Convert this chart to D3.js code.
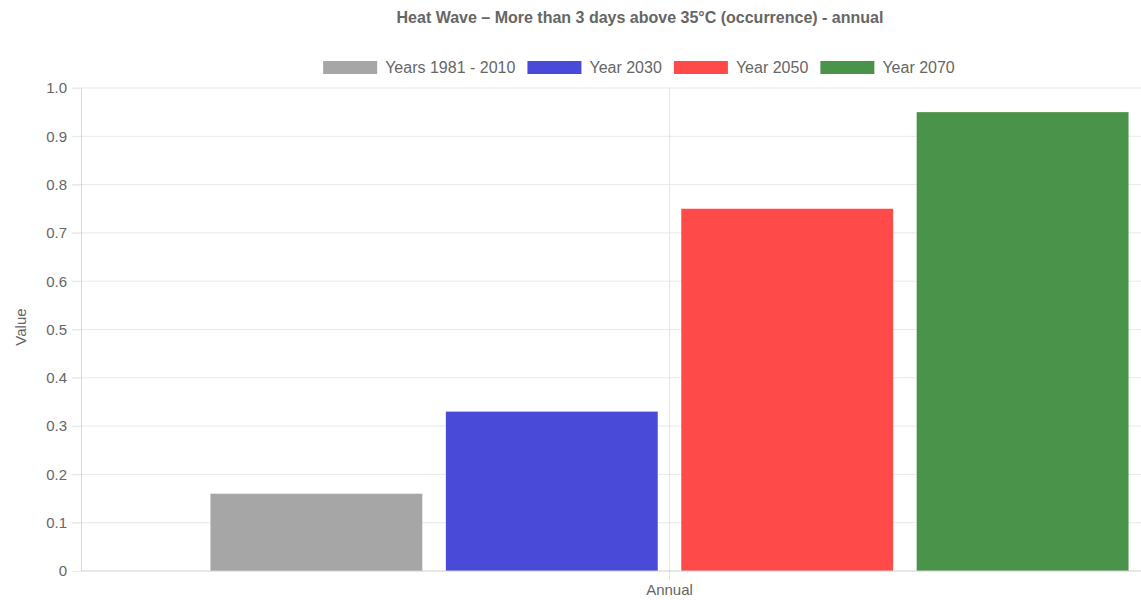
<!DOCTYPE html>
<meta charset="utf-8">
<script src="https://d3js.org/d3.v7.min.js"></script>
<style>
  body { margin: 0; background: #fff; }
  text { font-family: Arial, "Liberation Sans", sans-serif; fill: #666; }
</style>
<div id="chart"></div>
<script>
  // data
  const categories = ["Annual"];
  const seriesNames = ["Years 1981 - 2010", "Year 2030", "Year 2050", "Year 2070"];
  const seriesValues = [0.16, 0.33, 0.75, 0.95];
  const seriesColors = ["#a6a6a6", "#4a4ad9", "#ff4a4a", "#4a934a"];
  const yTicks = [0, 0.1, 0.2, 0.3, 0.4, 0.5, 0.6, 0.7, 0.8, 0.9, 1.0];

  const W = 1141, H = 600;
  // the original chart is cut on the right, the plot runs past the picture edge
  const margin = { top: 88, left: 81, bottom: 29 };
  const plotRight = 1258;

  const svg = d3.select("#chart").append("svg")
    .attr("width", W).attr("height", H);

  const x = d3.scaleBand().domain(categories).range([margin.left, plotRight]);
  const xs = d3.scaleBand().domain(seriesNames)
    .range([0, x.bandwidth() * 0.8]).paddingInner(0.1).paddingOuter(0.05);
  const y = d3.scaleLinear().domain([0, 1]).range([H - margin.bottom, margin.top]);

  // grid
  svg.append("g").selectAll("line").data(yTicks.slice(1)).join("line")
    .attr("x1", margin.left - 9).attr("x2", plotRight)
    .attr("y1", d => y(d)).attr("y2", d => y(d))
    .attr("stroke", "#e9e9e9").attr("stroke-width", 1);
  svg.append("line")
    .attr("x1", x("Annual") + x.bandwidth() / 2).attr("x2", x("Annual") + x.bandwidth() / 2)
    .attr("y1", margin.top).attr("y2", H - margin.bottom + 9)
    .attr("stroke", "#e6e6e6");

  // y axis
  const yAxis = svg.append("g")
    .attr("transform", `translate(${margin.left},0)`)
    .call(d3.axisLeft(y).tickValues(yTicks).tickSize(9).tickPadding(5)
      .tickFormat(d => d === 0 ? "0" : d3.format(".1f")(d)));
  yAxis.select(".domain").attr("stroke", "#d9d9d9");
  yAxis.selectAll(".tick line").attr("stroke", "#e9e9e9");
  yAxis.selectAll("text").style("font-size", "15px").attr("fill", "#777");

  // bars
  const groupLeft = x("Annual") + x.bandwidth() * 0.1;
  svg.append("g").selectAll("rect").data(seriesNames).join("rect")
    .attr("x", d => groupLeft + xs(d))
    .attr("width", xs.bandwidth())
    .attr("y", (d, i) => y(seriesValues[i]))
    .attr("height", (d, i) => y(0) - y(seriesValues[i]))
    .attr("fill", (d, i) => seriesColors[i]);

  // x axis line
  svg.append("line")
    .attr("x1", margin.left).attr("x2", plotRight)
    .attr("y1", y(0)).attr("y2", y(0))
    .attr("stroke", "#cfcfcf");
  svg.append("text")
    .attr("x", x("Annual") + x.bandwidth() / 2).attr("y", 595)
    .attr("text-anchor", "middle").style("font-size", "15px")
    .text("Annual");

  // y label
  svg.append("text")
    .attr("transform", `translate(26,327) rotate(-90)`)
    .attr("text-anchor", "middle").style("font-size", "15px")
    .text("Value");

  // title
  svg.append("text")
    .attr("x", 640).attr("y", 23)
    .attr("text-anchor", "middle").style("font-size", "16px").style("font-weight", "bold")
    .text("Heat Wave \u2013 More than 3 days above 35\u00b0C (occurrence) - annual");

  // legend
  const legend = svg.append("g");
  const items = legend.selectAll("g").data(seriesNames).join("g");
  items.append("rect").attr("width", 54).attr("height", 13).attr("y", 61)
    .attr("fill", (d, i) => seriesColors[i]);
  items.append("text").attr("x", 62).attr("y", 73)
    .style("font-size", "16px").text(d => d);
  const widths = [];
  items.each(function () { widths.push(this.getBBox().width); });
  const total = d3.sum(widths) + 12 * (widths.length - 1);
  let off = 639 - total / 2;
  items.attr("transform", (d, i) => {
    const t = `translate(${off},0)`;
    off += widths[i] + 12;
    return t;
  });
</script>
